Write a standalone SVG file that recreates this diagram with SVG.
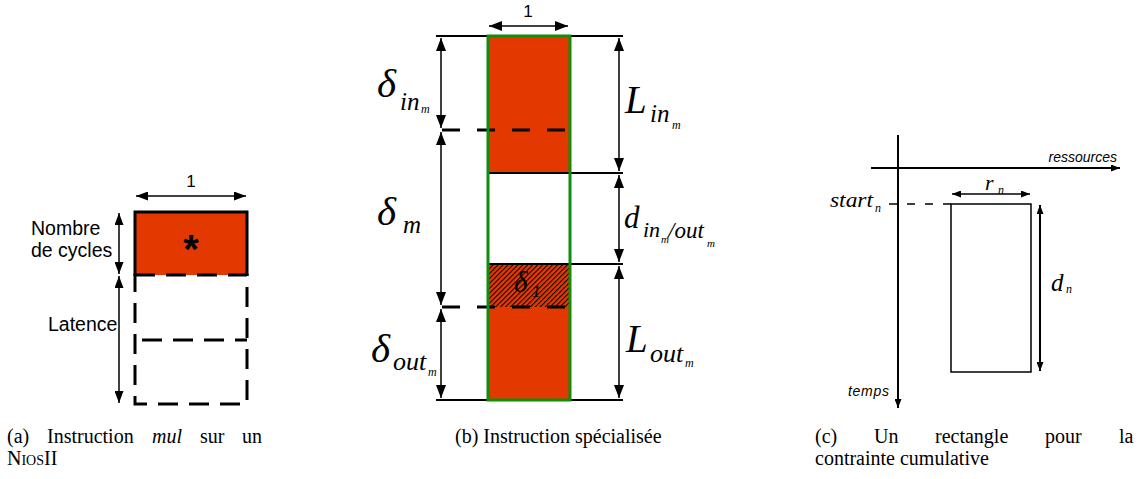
<svg xmlns="http://www.w3.org/2000/svg" width="1140" height="479" viewBox="0 0 1140 479">
<style>
.sans{font-family:"Liberation Sans",Arial,sans-serif;fill:#000}
.math{font-family:"Liberation Serif","Times New Roman",serif;font-style:italic;fill:#000}
.cap{font-family:"Liberation Serif","Times New Roman",serif;font-size:20px;fill:#000}
.ln{stroke:#000;fill:none}
.dash{stroke:#000;fill:none;stroke-width:3}
.red{fill:#e33900}
</style>
<defs>
<marker id="ahA" viewBox="0 0 12 9" refX="12" refY="4.5" markerWidth="12" markerHeight="9" orient="auto-start-reverse" markerUnits="userSpaceOnUse"><path d="M0,0 L12,4.5 L0,9 Z" fill="#000"/></marker>
<marker id="ahB" viewBox="0 0 13 10" refX="13" refY="5" markerWidth="13" markerHeight="10" orient="auto-start-reverse" markerUnits="userSpaceOnUse"><path d="M0,0 L13,5 L0,10 Z" fill="#000"/></marker>
<marker id="ahC" viewBox="0 0 9 7" refX="9" refY="3.5" markerWidth="9" markerHeight="7" orient="auto-start-reverse" markerUnits="userSpaceOnUse"><path d="M0,0 L9,3.5 L0,7 Z" fill="#000"/></marker>
<pattern id="hatch" width="3.5" height="3.5" patternUnits="userSpaceOnUse" patternTransform="rotate(45)"><rect width="3.5" height="3.5" fill="#e33900"/><line x1="0.5" y1="0" x2="0.5" y2="3.5" stroke="#000" stroke-width="1"/></pattern>
</defs>

<g id="part-a">
  <rect class="red" x="135" y="212" width="112" height="63"/>
  <path class="ln" stroke-width="3" d="M135,276 V212 H247 V276"/>
  <rect class="dash" x="135" y="275" width="112" height="129" stroke-dasharray="20 11"/>
  <line class="dash" x1="142" y1="340" x2="247" y2="340" stroke-dasharray="20 11"/>
  <text class="sans" x="191" y="263" font-size="40" font-weight="bold" text-anchor="middle">*</text>
  <text class="sans" x="191" y="187" font-size="17" text-anchor="middle">1</text>
  <text class="sans" x="31" y="235" font-size="19.5">Nombre</text>
  <text class="sans" x="31" y="257" font-size="19.5">de cycles</text>
  <text class="sans" x="48" y="331" font-size="19.5">Latence</text>
</g>

<g id="part-b">
  <rect class="red" x="488" y="36" width="82" height="137"/>
  <rect fill="url(#hatch)" x="488" y="264" width="82" height="43"/>
  <rect class="red" x="488" y="307" width="82" height="93"/>
  <line class="ln" stroke-width="2" x1="436" y1="36" x2="623" y2="36"/>
  <line class="ln" stroke-width="2" x1="488" y1="173" x2="623" y2="173"/>
  <line class="ln" stroke-width="2" x1="488" y1="264" x2="623" y2="264"/>
  <line class="ln" stroke-width="2" x1="436" y1="400" x2="623" y2="400"/>
  <line class="dash" x1="442" y1="130" x2="566" y2="130" stroke-dasharray="18 17"/>
  <line class="dash" x1="442" y1="307" x2="566" y2="307" stroke-dasharray="18 17"/>
  <rect x="488" y="36" width="82" height="364" fill="none" stroke="#0d8f0d" stroke-width="3"/>
  <text class="sans" x="528" y="17" font-size="17" text-anchor="middle">1</text>
  <text class="math" x="377" y="97" font-size="41">δ</text>
  <text class="math" x="400" y="110" font-size="25">in</text>
  <text class="math" x="421" y="113" font-size="12">m</text>
  <text class="math" x="625" y="113" font-size="39">L</text>
  <text class="math" x="650" y="122" font-size="25">in</text>
  <text class="math" x="672" y="129" font-size="12">m</text>
  <text class="math" x="377" y="225" font-size="41">δ</text>
  <text class="math" x="403" y="233" font-size="25">m</text>
  <text class="math" x="624" y="228" font-size="31">d</text>
  <text class="math" x="643" y="237" font-size="22">in</text>
  <text class="math" x="661" y="243" font-size="11">m</text>
  <text class="math" x="668" y="238" font-size="23">/out</text>
  <text class="math" x="707" y="247" font-size="11">m</text>
  <text class="math" x="514" y="292" font-size="29">δ</text>
  <text class="math" x="532" y="297" font-size="17">1</text>
  <text class="math" x="371" y="362" font-size="41">δ</text>
  <text class="math" x="393" y="370" font-size="26">out</text>
  <text class="math" x="428" y="376" font-size="12">m</text>
  <text class="math" x="626" y="352" font-size="39">L</text>
  <text class="math" x="650" y="362" font-size="26">out</text>
  <text class="math" x="685" y="367" font-size="12">m</text>
</g>

<g id="part-c">
  <rect x="951" y="204" width="80" height="168" fill="none" stroke="#000" stroke-width="1.5"/>
  <line class="ln" stroke-width="1.5" x1="889" y1="204" x2="951" y2="204" stroke-dasharray="8 10"/>
  <text class="sans" x="1117" y="162" font-size="14" font-style="italic" text-anchor="end">ressources</text>
  <text class="sans" x="848" y="396" font-size="14" font-style="italic" textLength="41">temps</text>
  <text class="math" x="830" y="207" font-size="21" textLength="43" lengthAdjust="spacingAndGlyphs">start</text>
  <text class="math" x="875" y="212" font-size="12">n</text>
  <text class="math" x="985" y="190" font-size="22">r</text>
  <text class="math" x="998" y="194" font-size="12">n</text>
  <text class="math" x="1051" y="291" font-size="25">d</text>
  <text class="math" x="1066" y="293" font-size="12">n</text>
</g>

<g id="connectors">
  <line class="ln" stroke-width="1.5" x1="136" y1="196" x2="246" y2="196" marker-start="url(#ahA)" marker-end="url(#ahA)"/>
  <line class="ln" stroke-width="1.5" x1="119" y1="213" x2="119" y2="274" marker-start="url(#ahA)" marker-end="url(#ahA)"/>
  <line class="ln" stroke-width="1.5" x1="119" y1="276" x2="119" y2="403" marker-start="url(#ahA)" marker-end="url(#ahA)"/>
  <line class="ln" stroke-width="1.5" x1="489" y1="26" x2="568" y2="26" marker-start="url(#ahB)" marker-end="url(#ahB)"/>
  <line class="ln" stroke-width="1.5" x1="441" y1="38" x2="441" y2="128" marker-start="url(#ahB)" marker-end="url(#ahB)"/>
  <line class="ln" stroke-width="1.5" x1="441" y1="132" x2="441" y2="305" marker-start="url(#ahB)" marker-end="url(#ahB)"/>
  <line class="ln" stroke-width="1.5" x1="441" y1="309" x2="441" y2="398" marker-start="url(#ahB)" marker-end="url(#ahB)"/>
  <line class="ln" stroke-width="1.5" x1="619" y1="38" x2="619" y2="171" marker-start="url(#ahB)" marker-end="url(#ahB)"/>
  <line class="ln" stroke-width="1.5" x1="619" y1="175" x2="619" y2="262" marker-start="url(#ahB)" marker-end="url(#ahB)"/>
  <line class="ln" stroke-width="1.5" x1="619" y1="266" x2="619" y2="398" marker-start="url(#ahB)" marker-end="url(#ahB)"/>
  <line class="ln" stroke-width="2" x1="898" y1="135" x2="898" y2="408" marker-end="url(#ahC)"/>
  <line class="ln" stroke-width="2" x1="871" y1="168" x2="1120" y2="168" marker-end="url(#ahC)"/>
  <line class="ln" stroke-width="1.5" x1="952" y1="194" x2="1030" y2="194" marker-start="url(#ahC)" marker-end="url(#ahC)"/>
  <line class="ln" stroke-width="2" x1="1040" y1="205" x2="1040" y2="371" marker-start="url(#ahC)" marker-end="url(#ahC)"/>
</g>

<g id="captions">
  <text class="cap" y="443"><tspan x="7">(a)</tspan><tspan x="47">Instruction</tspan><tspan x="152" font-style="italic">mul</tspan><tspan x="200">sur</tspan><tspan x="242">un</tspan></text>
  <text class="cap" x="7" y="465"><tspan font-variant="small-caps">Nios</tspan>II</text>
  <text class="cap" x="455" y="443">(b) Instruction spécialisée</text>
  <text class="cap" y="443"><tspan x="815">(c)</tspan><tspan x="874">Un</tspan><tspan x="935">rectangle</tspan><tspan x="1045">pour</tspan><tspan x="1119">la</tspan></text>
  <text class="cap" x="815" y="465">contrainte cumulative</text>
</g>
</svg>
